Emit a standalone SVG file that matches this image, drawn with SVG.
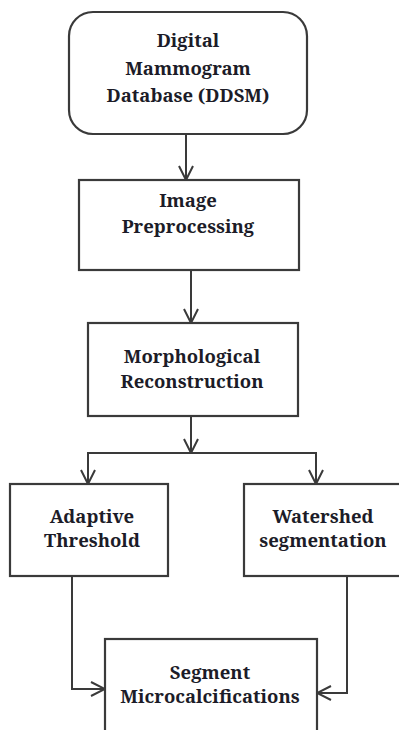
<svg xmlns="http://www.w3.org/2000/svg" width="399" height="730" viewBox="0 0 399 730">
<style>
.box{fill:#ffffff;stroke:#3a3a3a;stroke-width:2.2}
.c{fill:none;stroke:#3a3a3a;stroke-width:2}
</style>
<defs>
<marker id="arr" viewBox="0 0 16 16" refX="15" refY="8" markerWidth="16" markerHeight="16" markerUnits="userSpaceOnUse" orient="auto">
<path d="M1,1 L15,8 L1,15" fill="none" stroke="#3a3a3a" stroke-width="2"/>
</marker>
</defs>
<rect width="399" height="730" fill="#ffffff"/>
<g id="connectors">
<line class="c" x1="186" y1="134" x2="186" y2="180" marker-end="url(#arr)"/>
<line class="c" x1="191" y1="270" x2="191" y2="323" marker-end="url(#arr)"/>
<line class="c" x1="191" y1="416" x2="191" y2="453" marker-end="url(#arr)"/>
<polyline class="c" points="88,484 88,453 316,453 316,484"/>
<line class="c" x1="88" y1="453" x2="88" y2="484" marker-end="url(#arr)"/>
<line class="c" x1="316" y1="453" x2="316" y2="484" marker-end="url(#arr)"/>
<polyline class="c" points="72,576 72,689 105,689" marker-end="url(#arr)"/>
<polyline class="c" points="347,576 347,693 317,693" marker-end="url(#arr)"/>
</g>
<g font-family="Noto Serif, Liberation Serif, serif" font-weight="bold" font-size="18.5" fill="#1c1c28" text-anchor="middle">
<g id="ddsm">
<rect class="box" x="69" y="12" width="238" height="122" rx="24" ry="24"/>
<text x="188" y="47">Digital</text>
<text x="188" y="75">Mammogram</text>
<text x="188" y="102">Database (DDSM)</text>
</g>
<g id="preprocessing">
<rect class="box" x="79" y="180" width="220" height="90"/>
<text x="188" y="207">Image</text>
<text x="188" y="233">Preprocessing</text>
</g>
<g id="morphological">
<rect class="box" x="88" y="323" width="210" height="93"/>
<text x="192" y="363">Morphological</text>
<text x="192" y="388">Reconstruction</text>
</g>
<g id="adaptive">
<rect class="box" x="10" y="484" width="158" height="92"/>
<text x="92" y="523">Adaptive</text>
<text x="92" y="547">Threshold</text>
</g>
<g id="watershed">
<rect class="box" x="244" y="484" width="170" height="92"/>
<text x="323" y="523">Watershed</text>
<text x="323" y="547">segmentation</text>
</g>
<g id="segment">
<rect class="box" x="105" y="639" width="212" height="100"/>
<text x="210" y="679">Segment</text>
<text x="210" y="703">Microcalcifications</text>
</g>
</g>
</svg>
